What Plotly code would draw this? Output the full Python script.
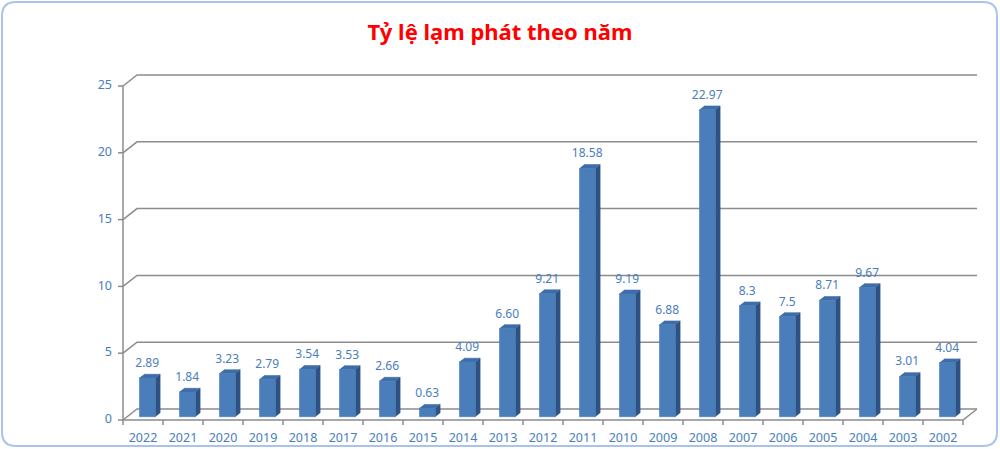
import plotly.graph_objects as go

# ---------------- data ----------------
years = ["2022", "2021", "2020", "2019", "2018", "2017", "2016", "2015", "2014", "2013", "2012",
         "2011", "2010", "2009", "2008", "2007", "2006", "2005", "2004", "2003", "2002"]
inflation = [2.89, 1.84, 3.23, 2.79, 3.54, 3.53, 2.66, 0.63, 4.09, 6.60, 9.21,
             18.58, 9.19, 6.88, 22.97, 8.3, 7.5, 8.71, 9.67, 3.01, 4.04]
value_labels = ["2.89", "1.84", "3.23", "2.79", "3.54", "3.53", "2.66", "0.63", "4.09", "6.60", "9.21",
                "18.58", "9.19", "6.88", "22.97", "8.3", "7.5", "8.71", "9.67", "3.01", "4.04"]
y_ticks = [0, 5, 10, 15, 20, 25]
title_text = "Tỷ lệ lạm phát theo năm"

# ---------------- geometry (pixels) ----------------
W, H = 1000, 449
X0PX = 123            # front left edge of category axis
CATPX = 40            # px per category
Y0PX = 420            # front y=0
UNITPX = (420 - 86) / 25.0
DX = 14 / CATPX       # depth offset in x data units
DY = 11 / UNITPX      # depth offset in y data units
L, R, T, B = 90, 992, 50, 446
n = len(years)
xmin_cat, xmax_cat = -0.5, n - 0.5
xr = [xmin_cat - (X0PX - L) / CATPX, xmin_cat + (R - X0PX) / CATPX]
yr = [-(B - Y0PX) / UNITPX, (Y0PX - T) / UNITPX]

BAR_HALF = 0.2
Z0, Z1 = 0.3, 0.65


def proj(x, y, z):
    return x + z * DX, y + z * DY


GRID = "#8C8C8C"
FRONT = "#4A7EBB"
SIDE = "#2E5283"
TOP = "#3F6DA8"
TEXT = "#4A7EBB"
FONT = "Noto Sans"

fig = go.Figure()

# back wall gridlines + left wall diagonals
gx, gy = [], []
for t in y_ticks:
    for (x, y, z) in [(xmin_cat, t, 0), (xmin_cat, t, 1), (xmax_cat, t, 1)]:
        px_, py_ = proj(x, y, z)
        gx.append(px_); gy.append(py_)
    gx.append(None); gy.append(None)
# floor front edge and right diagonal
for (x, y, z) in [(xmin_cat, 0, 0), (xmax_cat, 0, 0), (xmax_cat, 0, 1)]:
    px_, py_ = proj(x, y, z)
    gx.append(px_); gy.append(py_)
gx.append(None); gy.append(None)
# y axis line
gx += [xmin_cat, xmin_cat, None]; gy += [0, y_ticks[-1], None]
# y ticks
for t in y_ticks:
    gx += [xmin_cat - 5 / CATPX, xmin_cat, None]; gy += [t, t, None]
# x ticks
for k in range(n + 1):
    gx += [k - 0.5, k - 0.5, None]; gy += [0, -5 / UNITPX, None]
fig.add_trace(go.Scatter(x=gx, y=gy, mode="lines", line=dict(color=GRID, width=1.5),
                         hoverinfo="skip", showlegend=False))

# bars: side, top, front faces
sx, sy, tx, ty, fx, fy = [], [], [], [], [], []
for i, v in enumerate(inflation):
    xl, xrr = i - BAR_HALF, i + BAR_HALF
    for (x, y, z) in [(xrr, 0, Z0), (xrr, 0, Z1), (xrr, v, Z1), (xrr, v, Z0)]:
        a, b = proj(x, y, z); sx.append(a); sy.append(b)
    sx.append(None); sy.append(None)
    for (x, y, z) in [(xl, v, Z0), (xrr, v, Z0), (xrr, v, Z1), (xl, v, Z1)]:
        a, b = proj(x, y, z); tx.append(a); ty.append(b)
    tx.append(None); ty.append(None)
    for (x, y, z) in [(xl, 0, Z0), (xrr, 0, Z0), (xrr, v, Z0), (xl, v, Z0)]:
        a, b = proj(x, y, z); fx.append(a); fy.append(b)
    fx.append(None); fy.append(None)

for xs, ys, col in [(sx, sy, SIDE), (tx, ty, TOP), (fx, fy, FRONT)]:
    fig.add_trace(go.Scatter(x=xs, y=ys, mode="lines", fill="toself", fillcolor=col,
                             line=dict(color=col, width=0.6), hoverinfo="skip", showlegend=False))

# data labels
fig.add_trace(go.Scatter(
    x=[i + Z0 * DX for i in range(n)],
    y=[v + Z0 * DY + 14 / UNITPX for v in inflation],
    mode="text", text=value_labels, textposition="middle center",
    textfont=dict(family=FONT, size=12, color=TEXT), cliponaxis=False,
    hoverinfo="skip", showlegend=False))

# category labels
fig.add_trace(go.Scatter(
    x=list(range(n)), y=[-19 / UNITPX] * n, mode="text", text=years,
    textposition="middle center", textfont=dict(family=FONT, size=12.5, color=TEXT),
    cliponaxis=False, hoverinfo="skip", showlegend=False))

# y tick labels
fig.add_trace(go.Scatter(
    x=[xmin_cat - 11 / CATPX] * len(y_ticks), y=y_ticks, mode="text",
    text=[str(t) for t in y_ticks], textposition="middle left",
    textfont=dict(family=FONT, size=12.5, color=TEXT),
    cliponaxis=False, hoverinfo="skip", showlegend=False))


# rounded border
def pp(x, y):
    return (x - L) / (R - L), (B - y) / (B - T)


x1, y1, x2, y2, r = 2, 2, 997, 446, 14


def P(x, y):
    a, b = pp(x, y)
    return f"{a:.5f},{b:.5f}"


path = (f"M {P(x1 + r, y1)} L {P(x2 - r, y1)} Q {P(x2, y1)} {P(x2, y1 + r)} "
        f"L {P(x2, y2 - r)} Q {P(x2, y2)} {P(x2 - r, y2)} "
        f"L {P(x1 + r, y2)} Q {P(x1, y2)} {P(x1, y2 - r)} "
        f"L {P(x1, y1 + r)} Q {P(x1, y1)} {P(x1 + r, y1)} Z")
fig.add_shape(type="path", path=path, xref="paper", yref="paper",
              line=dict(color="#A9C3EC", width=2), layer="below")

fig.update_layout(
    width=W, height=H,
    margin=dict(l=L, r=W - R, t=T, b=H - B, pad=0),
    paper_bgcolor="white", plot_bgcolor="white",
    xaxis=dict(range=xr, visible=False, fixedrange=True),
    yaxis=dict(range=yr, visible=False, fixedrange=True),
    title=dict(text=title_text, x=(500 - L) / (R - L), xref="paper", xanchor="center",
               y=1 - 32 / H, yref="container", yanchor="middle",
               font=dict(family=FONT, size=22, color="#FF0000", weight="bold")),
    showlegend=False,
)

fig.write_html("out.html", config={"displayModeBar": False},
               post_script="document.body.style.margin='0';document.body.style.overflow='hidden';")
